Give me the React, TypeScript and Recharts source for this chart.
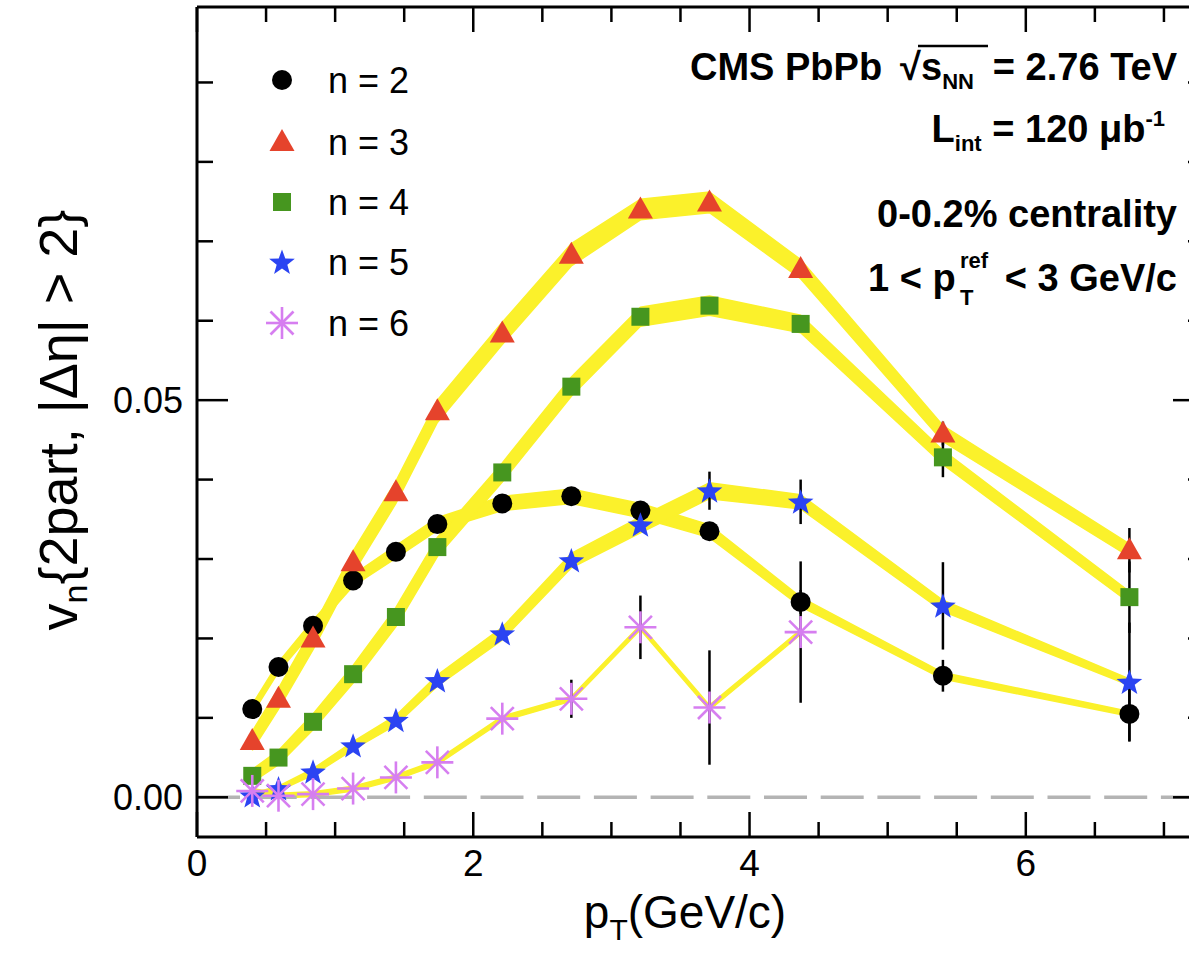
import React from "react";
import {
  ComposedChart,
  Area,
  Line,
  XAxis,
  YAxis,
  ErrorBar,
  ReferenceLine,
} from "recharts";

// mean pT of each bin (GeV/c)
const ptBins = [0.4, 0.59, 0.84, 1.13, 1.44, 1.74, 2.21, 2.71, 3.21, 3.71, 4.37, 5.4, 6.75];

// v_n{2part, |deta| > 2}
const v2 = [0.0111, 0.0164, 0.0216, 0.0273, 0.0309, 0.0344, 0.037, 0.0379, 0.0361, 0.0335, 0.0246, 0.0153, 0.0105];
const v3 = [0.0071, 0.0124, 0.02, 0.0296, 0.0384, 0.0486, 0.0584, 0.0683, 0.074, 0.0749, 0.0665, 0.0458, 0.0311];
const v4 = [0.0027, 0.005, 0.0095, 0.0155, 0.0227, 0.0315, 0.0409, 0.0517, 0.0605, 0.0619, 0.0596, 0.0428, 0.0252];
const v5 = [0.0002, 0.0011, 0.0032, 0.0065, 0.0097, 0.0147, 0.0206, 0.0298, 0.0343, 0.0386, 0.0372, 0.0241, 0.0145];
const v6 = [0.0008, 0.0002, 0.0004, 0.0011, 0.0025, 0.0044, 0.0099, 0.0124, 0.0214, 0.0113, 0.0208];

// statistical errors
const stat2 = [0, 0, 0, 0, 0, 0, 0, 0, 0, 0, 0.0015, 0.002, 0.0034];
const stat3 = [0, 0, 0, 0, 0, 0, 0, 0, 0, 0, 0, 0.0015, 0.0028];
const stat4 = [0, 0, 0, 0, 0, 0, 0, 0, 0, 0.0008, 0, 0.0025, 0.0045];
const stat5 = [0, 0, 0, 0, 0, 0, 0, 0, 0, 0.0024, 0.0028, 0.0055, 0.0075];
const stat6 = [0, 0, 0, 0, 0, 0, 0, 0.0024, 0.004, 0.0072, 0.0089];

// systematic uncertainties (half width of the yellow band)
const sys2 = [0.0006, 0.0006, 0.0007, 0.0007, 0.0008, 0.0008, 0.0009, 0.0009, 0.0009, 0.0008, 0.0006, 0.0004, 0.0003];
const sys3 = [0.0012, 0.0013, 0.0014, 0.0014, 0.0014, 0.0014, 0.0014, 0.0014, 0.0013, 0.0013, 0.0012, 0.001, 0.0008];
const sys4 = [0.0008, 0.0009, 0.001, 0.0011, 0.0012, 0.0012, 0.0012, 0.0012, 0.0012, 0.0012, 0.0011, 0.0009, 0.0007];
const sys5 = [0.0003, 0.0003, 0.0004, 0.0005, 0.0006, 0.0007, 0.0008, 0.0009, 0.001, 0.001, 0.0009, 0.0007, 0.0004];
const sys6 = [0.0003, 0.0003, 0.0003, 0.0003, 0.0003, 0.0003, 0.0003, 0.0003, 0.0003, 0.0003, 0.0003];

const xTicks = [0, 0.5, 1, 1.5, 2, 2.5, 3, 3.5, 4, 4.5, 5, 5.5, 6, 6.5, 7];
const xMajor = [0, 2, 4, 6];
const yTicks = [0, 0.01, 0.02, 0.03, 0.04, 0.05, 0.06, 0.07, 0.08, 0.09];
const yMajor = [0, 0.05];

const FONT = "'Liberation Sans', Arial, Helvetica, sans-serif";
const BAND = "#fbf12b";

type Kind = "circle" | "triangle" | "square" | "star" | "asterisk";

const series: { n: number; values: number[]; stat: number[]; sys: number[]; color: string; kind: Kind }[] = [
  { n: 2, values: v2, stat: stat2, sys: sys2, color: "#000000", kind: "circle" },
  { n: 3, values: v3, stat: stat3, sys: sys3, color: "#e5432c", kind: "triangle" },
  { n: 4, values: v4, stat: stat4, sys: sys4, color: "#46961f", kind: "square" },
  { n: 5, values: v5, stat: stat5, sys: sys5, color: "#2b44f2", kind: "star" },
  { n: 6, values: v6, stat: stat6, sys: sys6, color: "#d67ef0", kind: "asterisk" },
];

const rows = ptBins.map((pt, i) => {
  const row: Record<string, any> = { pt };
  series.forEach((s) => {
    const v = s.values[i];
    if (v === undefined) return;
    row[`v${s.n}`] = v;
    row[`e${s.n}`] = s.stat[i];
    row[`b${s.n}`] = [v - s.sys[i], v + s.sys[i]];
  });
  return row;
});

function starPath(cx: number, cy: number, R: number, r: number) {
  let d = "";
  for (let k = 0; k < 10; k++) {
    const a = -Math.PI / 2 + (k * Math.PI) / 5;
    const rad = k % 2 === 0 ? R : r;
    d += (k === 0 ? "M" : "L") + (cx + rad * Math.cos(a)).toFixed(2) + "," + (cy + rad * Math.sin(a)).toFixed(2);
  }
  return d + "Z";
}

function Marker({ kind, cx, cy, color }: { kind: Kind; cx: number; cy: number; color: string }) {
  switch (kind) {
    case "circle":
      return <circle cx={cx} cy={cy} r={10} fill={color} />;
    case "triangle":
      return <polygon points={`${cx},${cy - 13} ${cx - 12.5},${cy + 9} ${cx + 12.5},${cy + 9}`} fill={color} />;
    case "square":
      return <rect x={cx - 9} y={cy - 9} width={18} height={18} fill={color} />;
    case "star":
      return <path d={starPath(cx, cy + 1, 13.5, 5.6)} fill={color} />;
    default:
      return (
        <g stroke={color} strokeWidth={2.6}>
          <line x1={cx} x2={cx} y1={cy - 16} y2={cy + 16} />
          <line x1={cx - 16} x2={cx + 16} y1={cy} y2={cy} />
          <line x1={cx - 11.5} x2={cx + 11.5} y1={cy - 11.5} y2={cy + 11.5} />
          <line x1={cx - 11.5} x2={cx + 11.5} y1={cy + 11.5} y2={cy - 11.5} />
        </g>
      );
  }
}

const near = (a: number, list: number[]) => list.some((b) => Math.abs(a - b) < 1e-9);

const BottomTick = (props: any) => {
  const { x, y, payload } = props;
  const major = near(payload.value, xMajor);
  return (
    <g>
      <line x1={x} x2={x} y1={y} y2={y - (major ? 25 : 15)} stroke="#000" strokeWidth={2.5} />
      {major && (
        <text x={x} y={y + 39} textAnchor="middle" fontSize={37} fontFamily={FONT} fill="#000">
          {payload.value}
        </text>
      )}
    </g>
  );
};

const TopTick = (props: any) => {
  const { x, y, payload } = props;
  const major = near(payload.value, xMajor);
  return <line x1={x} x2={x} y1={y} y2={y + (major ? 25 : 15)} stroke="#000" strokeWidth={2.5} />;
};

const LeftTick = (props: any) => {
  const { x, y, payload } = props;
  const major = near(payload.value, yMajor);
  return (
    <g>
      <line x1={x} x2={x + (major ? 31 : 16)} y1={y} y2={y} stroke="#000" strokeWidth={2.5} />
      {major && (
        <text x={x - 14} y={y + 13} textAnchor="end" fontSize={36} fontFamily={FONT} fill="#000">
          {payload.value.toFixed(2)}
        </text>
      )}
    </g>
  );
};

const RightTick = (props: any) => {
  const { x, y, payload } = props;
  const major = near(payload.value, yMajor);
  return <line x1={x} x2={x - (major ? 31 : 16)} y1={y} y2={y} stroke="#000" strokeWidth={2.5} />;
};

const legendRows = [80, 142, 202, 262, 323];

export default function App() {
  const axisLine = { stroke: "#000", strokeWidth: 3 };
  return (
    <div
      style={{
        position: "absolute",
        left: 0,
        top: 0,
        width: 1189,
        height: 959,
        overflow: "hidden",
        background: "#fff",
      }}
    >
      <ComposedChart width={1230} height={959} data={rows} margin={{ top: 0, right: 0, bottom: 0, left: 0 }}>
        <XAxis
          xAxisId={0}
          type="number"
          dataKey="pt"
          domain={[0, 7.29]}
          ticks={xTicks}
          interval={0}
          allowDataOverflow
          tick={BottomTick}
          tickLine={false}
          tickSize={0}
          tickMargin={0}
          axisLine={axisLine}
          height={122}
        />
        <XAxis
          xAxisId="top"
          orientation="top"
          type="number"
          dataKey="pt"
          domain={[0, 7.29]}
          ticks={xTicks}
          interval={0}
          allowDataOverflow
          tick={TopTick}
          tickLine={false}
          tickSize={0}
          tickMargin={0}
          axisLine={axisLine}
          height={7}
        />
        <YAxis
          yAxisId={0}
          type="number"
          domain={[-0.005, 0.0995]}
          ticks={yTicks}
          interval={0}
          allowDataOverflow
          tick={LeftTick}
          tickLine={false}
          tickSize={0}
          tickMargin={0}
          axisLine={axisLine}
          width={197}
        />
        <YAxis
          yAxisId="right"
          orientation="right"
          type="number"
          domain={[-0.005, 0.0995]}
          ticks={yTicks}
          interval={0}
          allowDataOverflow
          tick={RightTick}
          tickLine={false}
          tickSize={0}
          tickMargin={0}
          axisLine={axisLine}
          width={26}
        />
        <ReferenceLine y={0} stroke="#b4b4b4" strokeWidth={3.5} strokeDasharray="43 13.7" />
        {series.map((s) => (
          <Area
            key={`band${s.n}`}
            dataKey={`b${s.n}`}
            type="linear"
            stroke={BAND}
            strokeWidth={1.5}
            fill={BAND}
            fillOpacity={1}
            dot={false}
            activeDot={false}
            isAnimationActive={false}
          />
        ))}
        {series.map((s) => (
          <Line
            key={`pts${s.n}`}
            dataKey={`v${s.n}`}
            type="linear"
            stroke="none"
            activeDot={false}
            isAnimationActive={false}
            dot={(p: any) =>
              p.cy == null || p.value == null ? (
                <g key={p.key} />
              ) : (
                <g key={p.key}>
                  <Marker kind={s.kind} cx={p.cx} cy={p.cy} color={s.color} />
                </g>
              )
            }
          >
            <ErrorBar dataKey={`e${s.n}`} width={0} stroke="#000" strokeWidth={2.5} direction="y" />
          </Line>
        ))}
      </ComposedChart>

      <svg
        width={1189}
        height={959}
        style={{ position: "absolute", left: 0, top: 0, pointerEvents: "none" }}
        fontFamily={FONT}
      >
        {series.map((s, i) => (
          <g key={`leg${s.n}`}>
            <Marker kind={s.kind} cx={282} cy={legendRows[i]} color={s.color} />
            <text x={328} y={legendRows[i] + 13} fontSize={36} fill="#000">
              n = {s.n}
            </text>
          </g>
        ))}

        <g fontWeight="bold" fill="#000" fontSize={38}>
          <text x={690} y={80}>CMS PbPb</text>
          <text x={900} y={80}>√</text>
          <text x={921} y={80}>
            s<tspan dy={9} fontSize={22}>NN</tspan>
          </text>
          <line x1={918} x2={988} y1={46} y2={46} stroke="#000" strokeWidth={2.5} />
          <text x={1177} y={80} textAnchor="end">= 2.76 TeV</text>

          <text x={1165} y={142} textAnchor="end">
            L<tspan dy={9} fontSize={22}>int</tspan>
            <tspan dy={-9}> = 120 μb</tspan>
            <tspan dy={-16} fontSize={22}>-1</tspan>
          </text>

          <text x={1177} y={227} textAnchor="end">0-0.2% centrality</text>

          <text x={868} y={291}>1 &lt; p</text>
          <text x={960} y={268} fontSize={22}>ref</text>
          <text x={960} y={305} fontSize={22}>T</text>
          <text x={1177} y={291} textAnchor="end">&lt; 3 GeV/c</text>
        </g>

        <text
          transform="translate(77,420) rotate(-90)"
          textAnchor="middle"
          fontSize={54}
          fill="#000"
        >
          v<tspan dy={10} fontSize={34}>n</tspan>
          <tspan dy={-10}>{"{2part, |Δη| > 2}"}</tspan>
        </text>

        <text x={685} y={928} textAnchor="middle" fontSize={46} fill="#000">
          p<tspan dy={12} fontSize={30}>T</tspan>
          <tspan dy={-12}>(GeV/c)</tspan>
        </text>
      </svg>
    </div>
  );
}
